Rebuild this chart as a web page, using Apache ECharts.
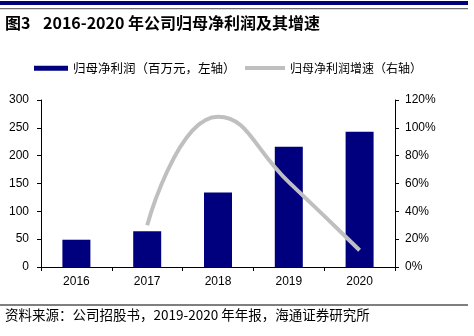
<!DOCTYPE html>
<html>
<head>
<meta charset="utf-8">
<script src="https://cdn.jsdelivr.net/npm/echarts@6/dist/echarts.min.js"></script>
<style>
  html, body { margin: 0; padding: 0; background: #fff; }
  #chart { width: 474px; height: 336px; }
</style>
</head>
<body>
<div id="chart"></div>
<script>
// 2016-2020 net profit attributable to parent (RMB mn) and its YoY growth
const years = ['2016', '2017', '2018', '2019', '2020'];
const netProfit = [49, 64, 134, 216, 243];
const growthPct = [null, 30, 108, 61, 12];
const leftTicks = { min: 0, max: 300, interval: 50 };
const rightTicks = { min: 0, max: 120, interval: 20 };

const CJK = '"Noto Sans CJK SC", "Liberation Sans", sans-serif';
const LAT = '"Liberation Sans", Arial, sans-serif';
const NAVY = '#00007f';
const GREY = '#bfbfbf';

const chart = echarts.init(document.getElementById('chart'), null, { renderer: 'canvas' });

const axisBase = {
  axisLine: { show: true, lineStyle: { color: '#000', width: 1 } },
  axisTick: { show: true, length: 4, lineStyle: { color: '#000' } },
  splitLine: { show: false },
  axisLabel: { color: '#000', fontSize: 12, fontFamily: LAT }
};

chart.setOption({
  animation: false,
  backgroundColor: '#fff',
  grid: { left: 41, right: 79, top: 100, bottom: 69 },
  graphic: [
    { type: 'rect', shape: { x: 0, y: 1, width: 468, height: 4 }, style: { fill: NAVY } },
    { type: 'rect', shape: { x: 0, y: 8, width: 468, height: 1.2 }, style: { fill: '#6e6e6e' } },
    { type: 'text', left: 5, top: 15,
      style: { text: '图3', font: 'bold 16px ' + CJK, fill: '#000' } },
    { type: 'text', left: 43, top: 15,
      style: { text: '2016-2020 年公司归母净利润及其增速', font: 'bold 16px ' + CJK, fill: '#000' } },
    { type: 'rect', shape: { x: 0, y: 304, width: 468, height: 2 }, style: { fill: '#7f7f7f' } },
    { type: 'text', left: 5, top: 308,
      style: { text: '资料来源：公司招股书，2019-2020 年年报，海通证券研究所', font: '13.5px ' + CJK, fill: '#000' } }
  ],
  legend: [
    {
      left: 29, top: 57, itemWidth: 34, itemHeight: 5, itemGap: 5,
      data: [{ name: '归母净利润（百万元，左轴）', icon: 'rect' }],
      textStyle: { fontFamily: CJK, fontSize: 12.5, color: '#000' }
    },
    {
      left: 240, top: 57, itemWidth: 40, itemHeight: 4,
      data: [{ name: '归母净利润增速（右轴）', icon: 'rect' }],
      textStyle: { fontFamily: CJK, fontSize: 12, color: '#000' }
    }
  ],
  xAxis: {
    type: 'category',
    data: years,
    boundaryGap: true,
    ...axisBase,
    axisTick: { show: true, length: 4, alignWithLabel: false, lineStyle: { color: '#000' } },
    axisLabel: { color: '#000', fontSize: 12, fontFamily: LAT, margin: 9 }
  },
  yAxis: [
    {
      type: 'value', position: 'left',
      min: leftTicks.min, max: leftTicks.max, interval: leftTicks.interval,
      ...axisBase,
      axisLabel: { ...axisBase.axisLabel, margin: 12 }
    },
    {
      type: 'value', position: 'right',
      min: rightTicks.min, max: rightTicks.max, interval: rightTicks.interval,
      ...axisBase,
      axisLabel: { ...axisBase.axisLabel, margin: 10, formatter: v => v + '%' }
    }
  ],
  series: [
    {
      name: '归母净利润（百万元，左轴）',
      type: 'bar',
      yAxisIndex: 0,
      data: netProfit,
      barWidth: 28,
      itemStyle: { color: NAVY }
    },
    {
      name: '归母净利润增速（右轴）',
      type: 'line',
      yAxisIndex: 1,
      data: growthPct,
      smooth: 0.5,
      showSymbol: false,
      symbol: 'none',
      connectNulls: false,
      lineStyle: { color: GREY, width: 4 },
      itemStyle: { color: GREY }
    }
  ]
});
</script>
</body>
</html>
